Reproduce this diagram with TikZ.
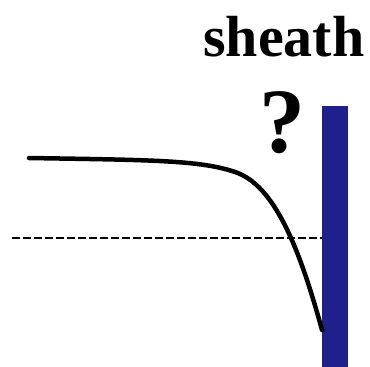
\documentclass[tikz,border=0pt]{standalone}
\usepackage{fontspec}
\setmainfont{Liberation Serif}
\definecolor{murbleu}{RGB}{32,32,140}
\begin{document}
\begin{tikzpicture}[x=1pt, y=-1pt,
    courbe/.style={line width=4.5pt, line cap=round},
    pointille/.style={line width=2.5pt, dash pattern=on 8pt off 3pt}]
    \useasboundingbox (0,0) rectangle (370,367);
    % paroi
    \fill[murbleu] (322,106) rectangle (348,367);
    % potentiel de reference
    \draw[pointille] (12,238) -- (322,238);
    % potentiel
    \draw[courbe] (29,158) .. controls (150,160) and (200,160) .. (235,172)
        .. controls (275,185) and (300,250) .. (322,330);
    % textes
    \node[font=\fontsize{58}{58}\selectfont\bfseries, anchor=base] (gaine) at (284,56) {sheath};
    \node[font=\fontsize{92}{92}\selectfont\bfseries, anchor=base] (question) at (282,152) {?};
\end{tikzpicture}
\end{document}
